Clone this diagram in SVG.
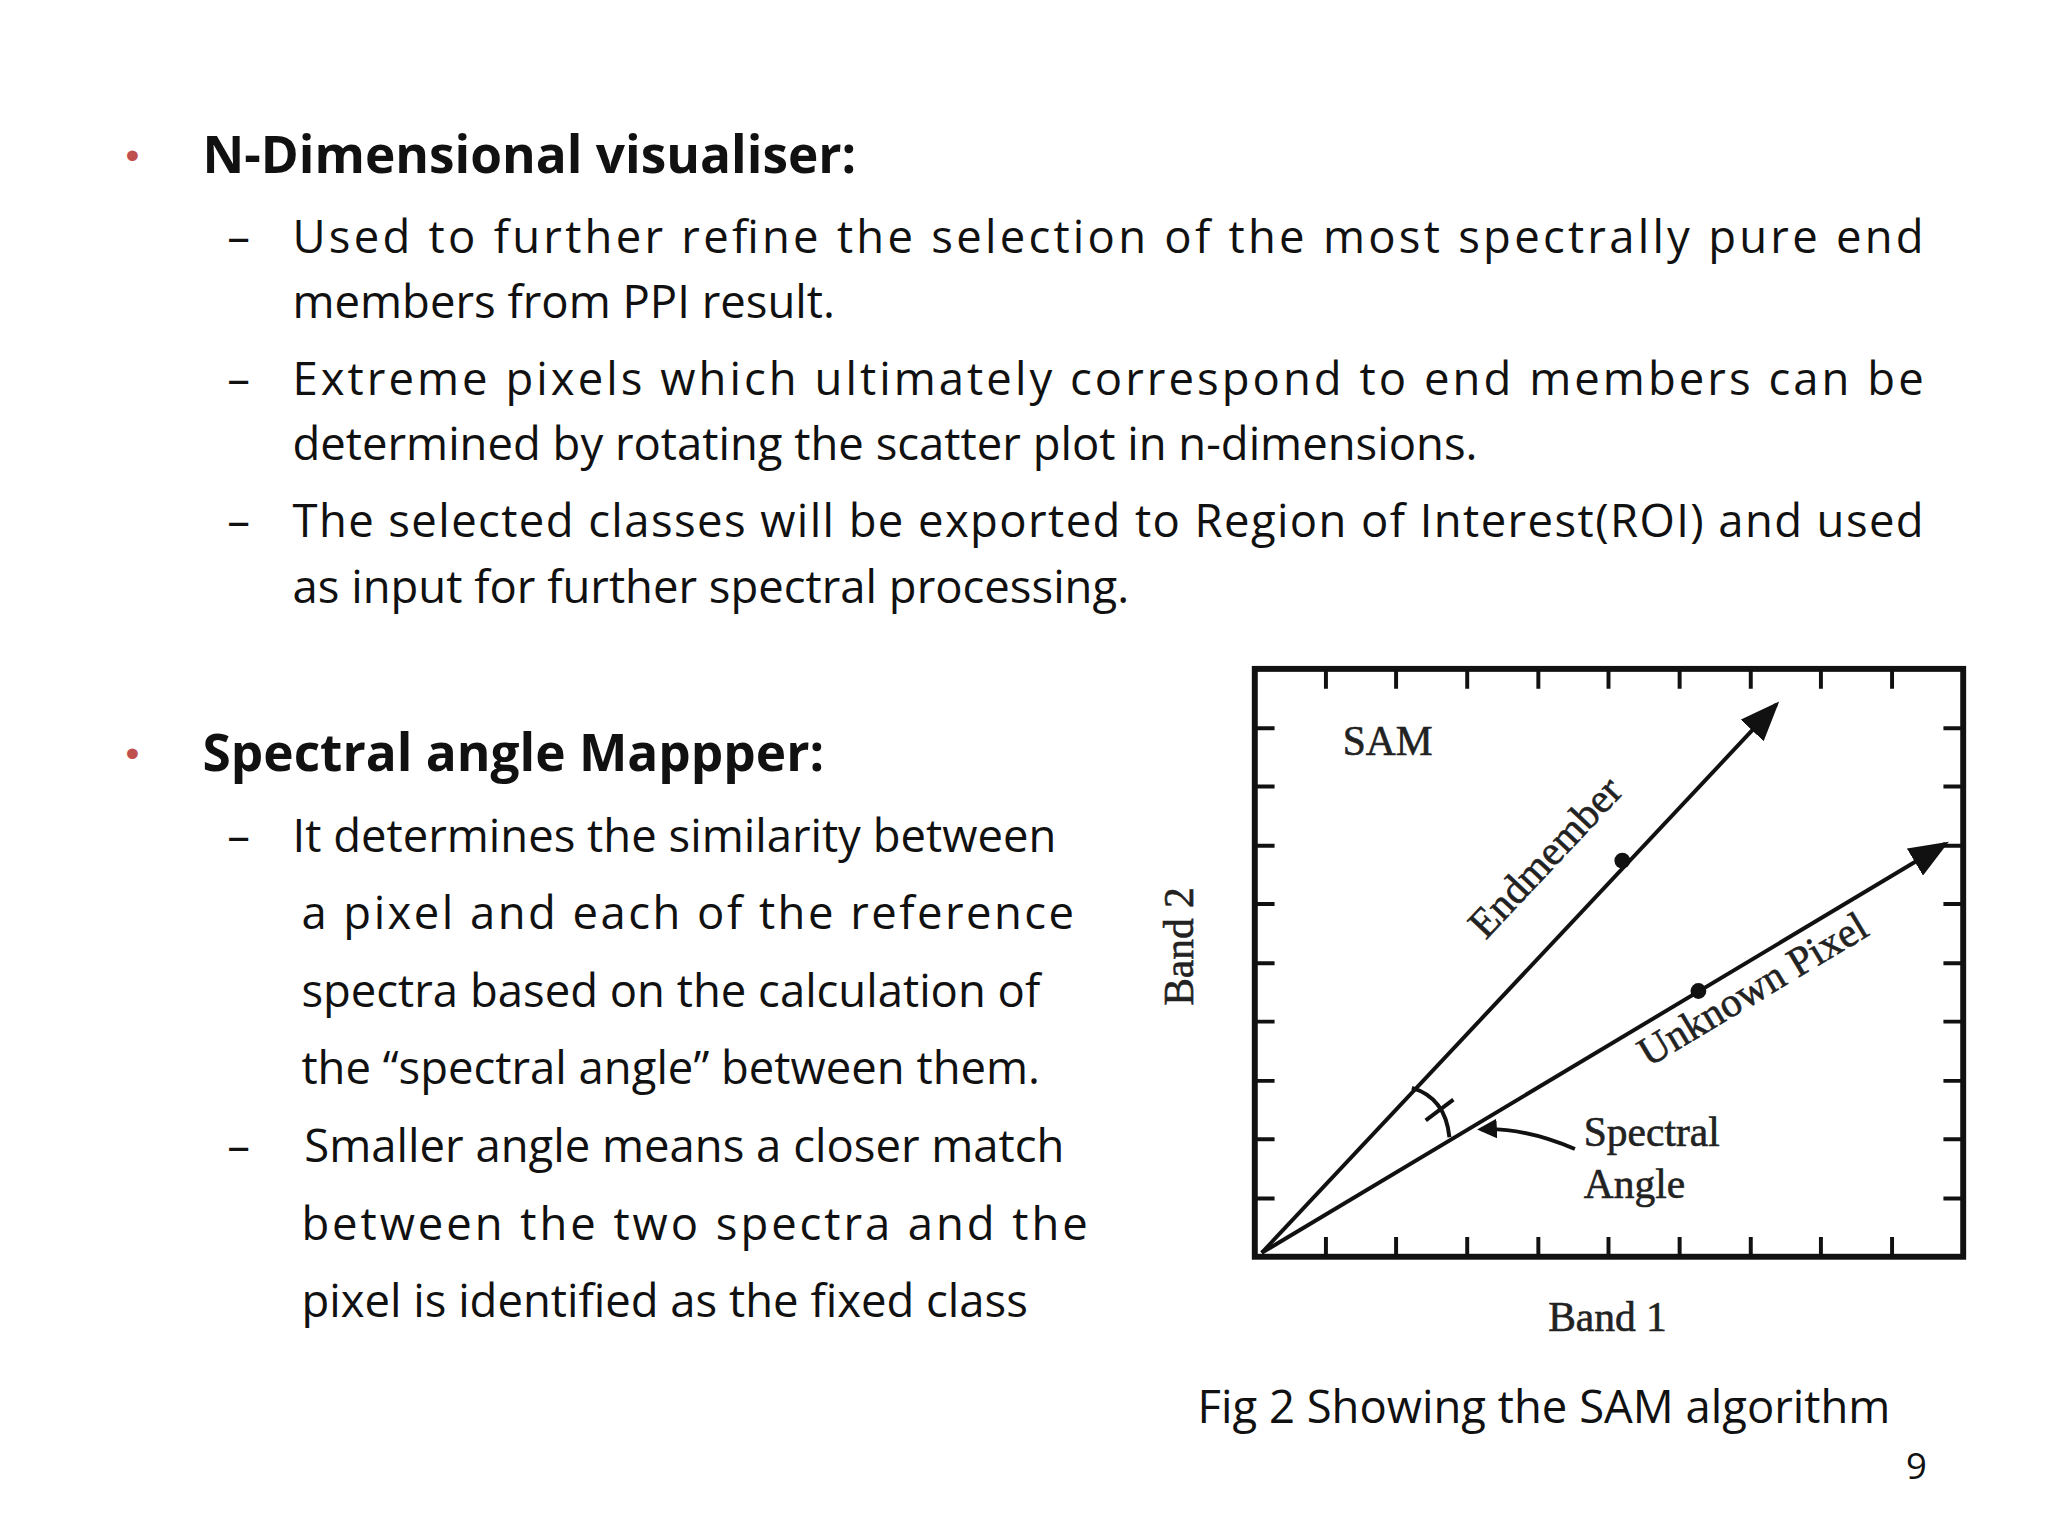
<svg xmlns="http://www.w3.org/2000/svg" width="2048" height="1536" viewBox="0 0 2048 1536">
<style>
.t{font-family:"Open Sans","Noto Sans","Liberation Sans",sans-serif;font-size:46px;fill:#111}
.h{font-family:"Open Sans","Noto Sans","Liberation Sans",sans-serif;font-size:52px;font-weight:bold;fill:#111}
.b{font-family:"Liberation Sans",sans-serif;font-size:40px;fill:#c0504d}
.s{font-family:"Liberation Serif","DejaVu Serif",serif;font-size:42px;fill:#222;stroke:#222;stroke-width:0.6}
.ax{stroke:#111;stroke-width:4;fill:none}
</style>
<defs><marker id="ar" markerWidth="10" markerHeight="8" refX="9" refY="4" orient="auto" markerUnits="strokeWidth"><path d="M0,0 L10,4 L0,8 z" fill="#111"/></marker>
<marker id="sm" markerWidth="5" markerHeight="5" refX="4" refY="2.5" orient="auto" markerUnits="strokeWidth"><path d="M0,0 L5,2.5 L0,5 z" fill="#111"/></marker></defs>
<rect width="2048" height="1536" fill="#fff"/>
<g transform="translate(3,1) scale(0.988)">
<g id="text1">
<text class="b" x="124" y="170">•</text>
<text class="h" x="202" y="174">N-Dimensional visualiser:</text>
<text class="t" x="227" y="255">–</text>
<text class="t" x="293" y="255" textLength="1651" lengthAdjust="spacing">Used to further refine the selection of the most spectrally pure end</text>
<text class="t" x="293" y="321">members from PPI result.</text>
<text class="t" x="227" y="399">–</text>
<text class="t" x="293" y="399" textLength="1651" lengthAdjust="spacing">Extreme pixels which ultimately correspond to end members can be</text>
<text class="t" x="293" y="465">determined by rotating the scatter plot in n-dimensions.</text>
<text class="t" x="227" y="543">–</text>
<text class="t" x="293" y="543" textLength="1651" lengthAdjust="spacing">The selected classes will be exported to Region of Interest(ROI) and used</text>
<text class="t" x="293" y="609">as input for further spectral processing.</text>
</g>
<g id="text2">
<text class="b" x="124" y="775">•</text>
<text class="h" x="202" y="779">Spectral angle Mappper:</text>
<text class="t" x="227" y="861">–</text>
<text class="t" x="293" y="861">It determines the similarity between</text>
<text class="t" x="302" y="939" textLength="782" lengthAdjust="spacing">a pixel and each of the reference</text>
<text class="t" x="302" y="1018">spectra based on the calculation of</text>
<text class="t" x="302" y="1096">the “spectral angle” between them.</text>
<text class="t" x="227" y="1175">–</text>
<text class="t" x="305" y="1175">Smaller angle means a closer match</text>
<text class="t" x="302" y="1254" textLength="796" lengthAdjust="spacing">between the two spectra and the</text>
<text class="t" x="302" y="1332">pixel is identified as the fixed class</text>
<text class="t" x="1209" y="1439">Fig 2  Showing the SAM algorithm</text>
<text class="t" x="1926" y="1496" style="font-size:37px">9</text>
</g>
<g id="plot">
<rect x="1267" y="676" width="717" height="595" class="ax" style="stroke-width:6"/>
<path class="ax" d="M1339,1271v-20M1410,1271v-20M1482,1271v-20M1554,1271v-20M1625,1271v-20M1697,1271v-20M1769,1271v-20M1840,1271v-20M1912,1271v-20
M1339,676v20M1410,676v20M1482,676v20M1554,676v20M1625,676v20M1697,676v20M1769,676v20M1840,676v20M1912,676v20
M1267,736h20M1267,795h20M1267,855h20M1267,914h20M1267,974h20M1267,1033h20M1267,1093h20M1267,1152h20M1267,1212h20
M1984,736h-20M1984,795h-20M1984,855h-20M1984,914h-20M1984,974h-20M1984,1033h-20M1984,1093h-20M1984,1152h-20M1984,1212h-20"/>
<text class="s" x="1356" y="763">SAM</text>
<text class="s" transform="translate(1204,957) rotate(-90)" text-anchor="middle">Band 2</text>
<text class="s" x="1624" y="1346" text-anchor="middle">Band 1</text>
<text class="s" transform="translate(1571,876) rotate(-46.8)" text-anchor="middle">Endmember</text>
<text class="s" transform="translate(1778,1012) rotate(-30.9)" text-anchor="middle">Unknown Pixel</text>
<text class="s" x="1600" y="1159">Spectral</text>
<text class="s" x="1600" y="1212">Angle</text>
</g>
<g id="connectors">
<line class="ax" x1="1274" y1="1267" x2="1795" y2="712" marker-end="url(#ar)"/>
<line class="ax" x1="1274" y1="1267" x2="1966" y2="853" marker-end="url(#ar)"/>
<circle cx="1639" cy="870" r="8" fill="#111"/>
<circle cx="1716" cy="1002" r="8" fill="#111"/>
<path class="ax" d="M1426,1100 Q1460,1110 1464,1150"/>
<path class="ax" d="M1440,1133 L1468,1112"/>
<path class="ax" d="M1591,1162 Q1540,1140 1496,1142" marker-end="url(#sm)"/>
</g>
</g>
</svg>
